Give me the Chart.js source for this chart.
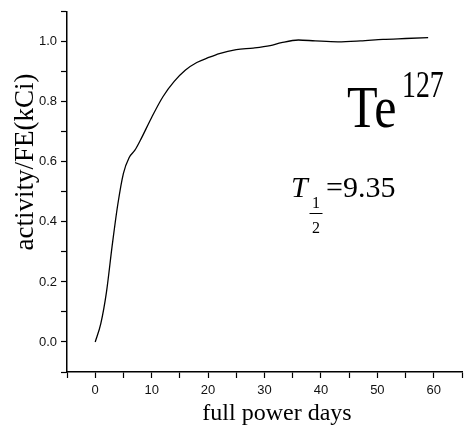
<!DOCTYPE html>
<html>
<head>
<meta charset="utf-8">
<script src="https://cdn.jsdelivr.net/npm/chart.js@4.4.0/dist/chart.umd.min.js"></script>
<style>
  html, body { margin: 0; padding: 0; background: #fff; }
  #wrap { width: 467px; height: 432px; position: relative; }
</style>
</head>
<body>
<div id="wrap"><canvas id="c" width="467" height="432"></canvas></div>
<script>
// Te-127 build-up: activity per fuel element versus full power days
const days = [0, 1, 2, 3, 4, 5, 6, 7, 8, 10, 12, 14, 16, 18, 20, 22, 25, 28, 31, 33, 36, 39, 43, 47, 51, 55, 59];
const activity = [0, 0.062, 0.167, 0.32, 0.458, 0.562, 0.614, 0.638, 0.672, 0.748, 0.817, 0.868, 0.906, 0.931, 0.947, 0.961, 0.974, 0.979, 0.987, 0.997, 1.006, 1.003, 1.000, 1.003, 1.008, 1.011, 1.014];

const xRange = [-5, 65];
const yRange = [-0.1, 1.1];
const xLabels = ['0', '10', '20', '30', '40', '50', '60'];
const yLabels = ['0.0', '0.2', '0.4', '0.6', '0.8', '1.0'];

const xTitle = 'full power days';
const yTitle = 'activity/FE(kCi)';
const nuclide = 'Te';
const massNumber = '127';
const halfLife = '=9.35';

const serif = "'Liberation Serif', 'Times New Roman', serif";
const sans = "'Liberation Sans', Arial, sans-serif";

const textPlugin = {
  id: 'textPlugin',
  afterDraw(chart) {
    const ctx = chart.ctx;
    ctx.save();
    ctx.fillStyle = '#000';
    ctx.textBaseline = 'alphabetic';

    // axis titles
    ctx.font = '24px ' + serif;
    ctx.textAlign = 'center';
    ctx.fillText(xTitle, 277, 420);

    ctx.save();
    ctx.translate(33, 162);
    ctx.rotate(-Math.PI / 2);
    ctx.font = '27px ' + serif;
    ctx.textAlign = 'center';
    ctx.fillText(yTitle, 0, 0);
    ctx.restore();

    // nuclide label
    ctx.textAlign = 'left';
    ctx.save();
    ctx.translate(347, 127);
    ctx.scale(0.85, 1);
    ctx.font = '59px ' + serif;
    ctx.fillText(nuclide, 0, 0);
    ctx.restore();
    ctx.save();
    ctx.translate(402, 97);
    ctx.scale(0.75, 1);
    ctx.font = '37px ' + serif;
    ctx.fillText(massNumber, 0, 0);
    ctx.restore();

    // half-life
    ctx.font = 'italic 30px ' + serif;
    ctx.fillText('T', 291, 197);
    ctx.font = '30px ' + serif;
    ctx.fillText(halfLife, 326, 197);
    ctx.font = '16px ' + serif;
    ctx.textAlign = 'center';
    ctx.fillText('1', 316, 208);
    ctx.fillText('2', 316, 233);
    ctx.beginPath();
    ctx.moveTo(309.5, 213.5);
    ctx.lineTo(322.5, 213.5);
    ctx.lineWidth = 1;
    ctx.strokeStyle = '#000';
    ctx.stroke();
    ctx.restore();
  }
};

new Chart(document.getElementById('c'), {
  type: 'line',
  data: {
    datasets: [{
      data: days.map((d, i) => ({ x: d, y: activity[i] })),
      borderColor: '#000',
      borderWidth: 1.3,
      pointRadius: 0,
      fill: false,
      cubicInterpolationMode: 'monotone'
    }]
  },
  options: {
    responsive: false,
    animation: false,
    layout: { padding: { top: 9, right: 0, left: 0, bottom: 0 } },
    plugins: { legend: { display: false }, tooltip: { enabled: false } },
    scales: {
      x: {
        type: 'linear',
        min: xRange[0],
        max: xRange[1],
        afterFit(scale) { scale.height = 60; },
        afterBuildTicks(scale) {
          const t = [];
          for (let v = xRange[0]; v <= xRange[1]; v += 5) t.push({ value: v });
          scale.ticks = t;
        },
        border: { display: true, color: '#000', width: 1.5 },
        grid: { display: true, drawOnChartArea: false, drawTicks: true, tickLength: 6, tickColor: '#000', tickWidth: 1.2 },
        ticks: {
          autoSkip: false,
          maxRotation: 0,
          padding: 5,
          color: '#111',
          font: { family: sans, size: 13 },
          callback(v) {
            const s = String(Math.round(v));
            return xLabels.includes(s) ? s : '';
          }
        }
      },
      y: {
        type: 'linear',
        min: yRange[0],
        max: yRange[1],
        afterFit(scale) { scale.width = 67; },
        afterBuildTicks(scale) {
          const t = [];
          for (let k = -1; k <= 11; k++) t.push({ value: k / 10 });
          scale.ticks = t;
        },
        border: { display: true, color: '#000', width: 1.5 },
        grid: { display: true, drawOnChartArea: false, drawTicks: true, tickLength: 6, tickColor: '#000', tickWidth: 1.2 },
        ticks: {
          autoSkip: false,
          padding: 4,
          color: '#111',
          font: { family: sans, size: 13 },
          callback(v) {
            const s = (Math.round(v * 10) / 10).toFixed(1);
            return yLabels.includes(s) ? s : '';
          }
        }
      }
    }
  },
  plugins: [textPlugin]
});
</script>
</body>
</html>
